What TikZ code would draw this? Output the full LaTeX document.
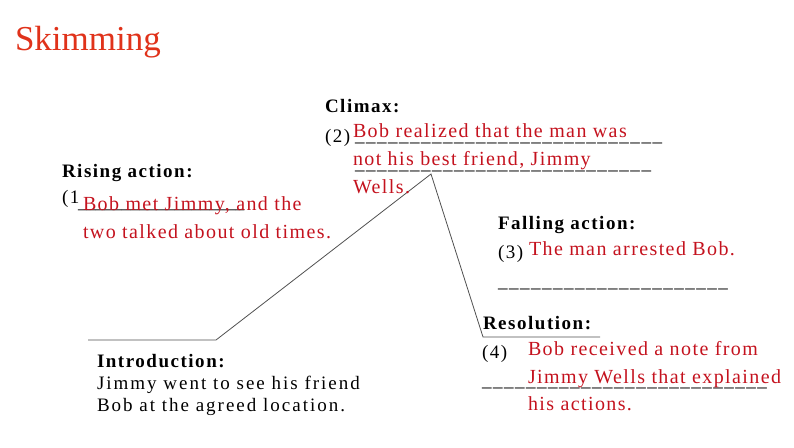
\documentclass[tikz,border=0pt]{standalone}
\usepackage{fontspec}
\setmainfont{Liberation Serif}
\newfontfamily\bodyf[LetterSpace=8]{Liberation Serif}
\newfontfamily\introf[LetterSpace=10.5]{Liberation Serif}
\newfontfamily\redf[LetterSpace=7]{Liberation Serif}
\newfontfamily\plainf{Liberation Serif}
\definecolor{titlered}{RGB}{224,50,26}
\definecolor{ansred}{RGB}{196,18,30}
\definecolor{plotgray}{RGB}{80,80,80}
\newcommand{\unders}[1]{\foreach \i in {1,...,#1}{\_}}
\tikzset{
  txt/.style={anchor=base west,inner sep=0pt,outer sep=0pt},
  head/.style={txt,font=\bodyf\fontsize{19}{22}\selectfont\bfseries},
  body/.style={txt,font=\bodyf\fontsize{19}{22}\selectfont},
  introtxt/.style={txt,font=\introf\fontsize{19}{22}\selectfont},
  ans/.style={txt,text=ansred,font=\redf\fontsize{20}{28}\selectfont},
  blank/.style={txt,font=\bodyf\fontsize{19}{22}\selectfont},
  plot/.style={draw=plotgray,line width=0.8pt}
}
\begin{document}
\begin{tikzpicture}[x=1pt,y=-1pt]
\useasboundingbox (0,0) rectangle (794,447);
% title
\node[txt,text=titlered,font=\plainf\fontsize{35}{40}\selectfont] (title) at (15,50) {Skimming};
% plot line
\coordinate (p0) at (88,340);
\coordinate (p1) at (216,340);
\coordinate (p2) at (431,174);
\coordinate (p3) at (483,337);
\coordinate (p4) at (600,337);
\draw[plot] (p0) -- (p1) -- (p2) -- (p3) -- (p4);
% climax
\node[head] (climax) at (325,112) {Climax:};
\node[body] (c2) at (325,142) {(2)};
\node[blank] (cu1) at (355,141) {\unders{28}};
\node[blank] (cu2) at (355,169) {\unders{27}};
\node[ans] (cl1) at (353,137) {Bob realized that the man was};
\node[ans] (cl2) at (353,165) {not his best friend, Jimmy};
\node[ans] (cl3) at (353,193) {Wells.};
% rising action
\node[head] (rising) at (62,177) {Rising action:};
\node[body] (r1) at (62,203) {(1};
\node[txt,font=\plainf\fontsize{17.5}{21}\selectfont] (ru) at (78,208) {\unders{19}};
\node[ans] (rl1) at (83,210) {Bob met Jimmy, and the};
\node[ans] (rl2) at (83,238) {two talked about old times.};
% falling action
\node[head] (falling) at (498,229) {Falling action:};
\node[body] (f3) at (498,258) {(3)};
\node[ans] (fl1) at (529,255) {The man arrested Bob.};
\node[blank] (fu) at (498,287) {\unders{21}};
% resolution
\node[head] (resol) at (483,329) {Resolution:};
\node[body] (s4) at (482,358) {(4)};
\node[blank] (su) at (482,386) {\unders{26}};
\node[ans] (sl1) at (528,355) {Bob received a note from};
\node[ans] (sl2) at (528,383) {Jimmy Wells that explained};
\node[ans] (sl3) at (528,410) {his actions.};
% introduction
\node[head] (intro) at (97,367) {Introduction:};
\node[introtxt] (il1) at (97,389) {Jimmy went to see his friend};
\node[introtxt] (il2) at (97,411) {Bob at the agreed location.};
\end{tikzpicture}
\end{document}
